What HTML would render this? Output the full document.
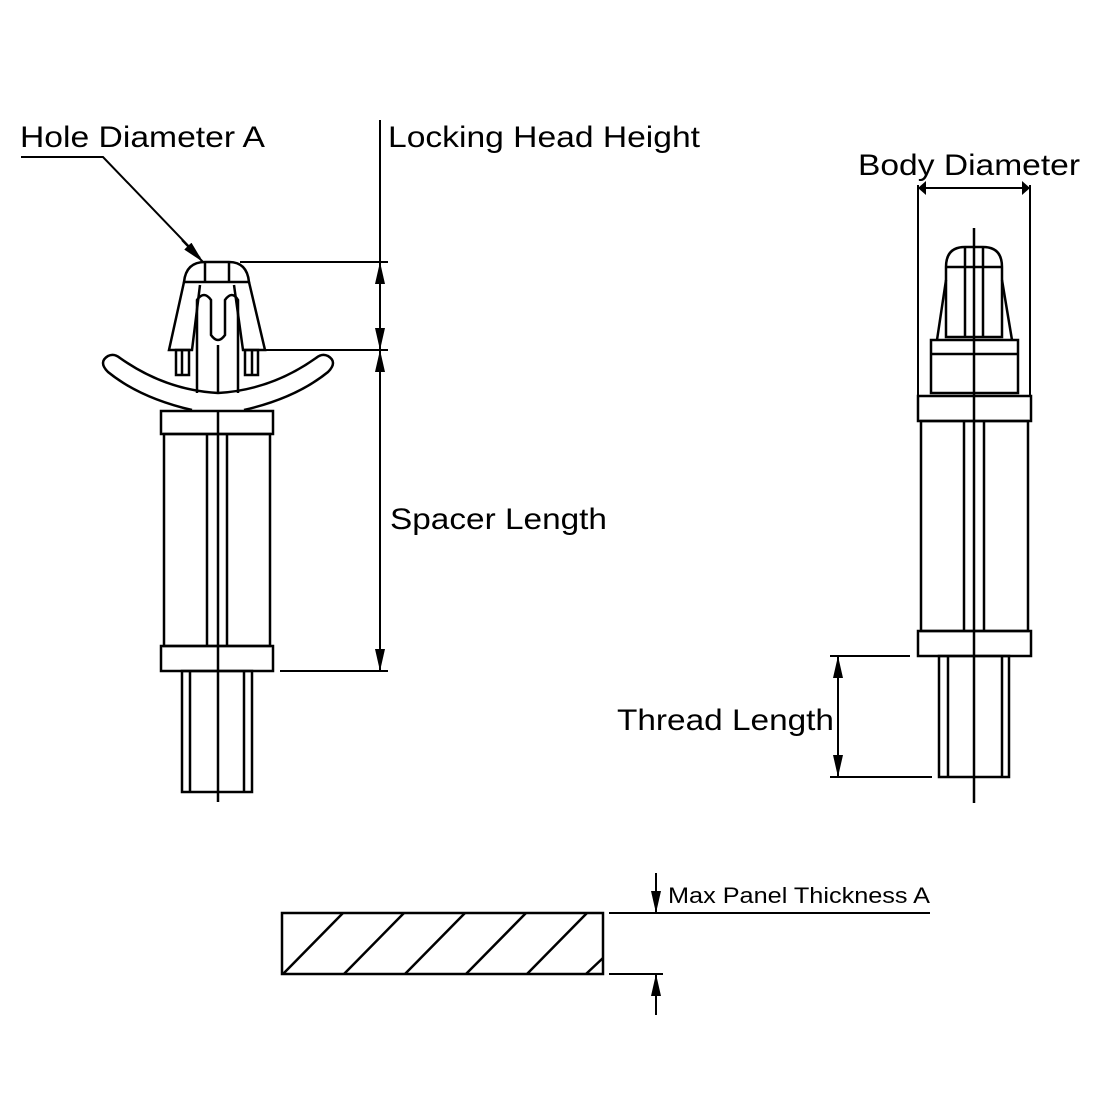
<!DOCTYPE html>
<html><head><meta charset="utf-8"><style>body{margin:0;background:#fff}svg{display:block}</style></head><body>
<svg width="1100" height="1100" viewBox="0 0 1100 1100" xmlns="http://www.w3.org/2000/svg">
<defs>
<marker id="a" viewBox="0 0 10 10" refX="10" refY="5" markerWidth="8" markerHeight="14" markerUnits="userSpaceOnUse" orient="auto-start-reverse" preserveAspectRatio="none"><path d="M0,0 L10,5 L0,10 z" fill="#000"/></marker>
<marker id="b" viewBox="0 0 10 10" refX="10" refY="5" markerWidth="22" markerHeight="10" markerUnits="userSpaceOnUse" orient="auto-start-reverse" preserveAspectRatio="none"><path d="M0,0 L10,5 L0,10 z" fill="#000"/></marker>
</defs>
<g fill="none" stroke="#000" stroke-width="2.5">
<!-- left part -->
<path d="M184,282 Q186,262 205,262 L229,262 Q247,262 249,282 Z"/>
<line x1="205" y1="262" x2="205" y2="282"/><line x1="229" y1="262" x2="229" y2="282"/>
<path d="M184,282 L169,350 L192,350 L200,285"/>
<path d="M249,282 L265,350 L243,350 L234,285"/>
<path d="M197,393 L197,300 Q204,290 211,300 L211,335 Q218,345 225,335 L225,300 Q232,290 238,300 L238,393"/>
<line x1="218" y1="345" x2="218" y2="393"/>
<rect x="176" y="350" width="13" height="25"/><line x1="182" y1="350" x2="182" y2="375"/>
<rect x="245" y="350" width="13" height="25"/><line x1="252" y1="350" x2="252" y2="375"/>
<path d="M192,410 Q140,398 108,372 Q98,362 108,356 Q114,353 120,358 Q165,390 218,393 Q271,390 316,358 Q322,353 328,356 Q338,362 328,372 Q296,398 244,410"/>
<rect x="161" y="411" width="112" height="23"/>
<rect x="164" y="434" width="106" height="212"/>
<line x1="207" y1="434" x2="207" y2="646"/><line x1="227" y1="434" x2="227" y2="646"/>
<rect x="161" y="646" width="112" height="25"/>
<rect x="182" y="671" width="70" height="121"/>
<line x1="190" y1="671" x2="190" y2="792"/><line x1="244" y1="671" x2="244" y2="792"/>
<line x1="218" y1="411" x2="218" y2="802"/>
<!-- right part -->
<path d="M946,267 Q946,247 965,247 L983,247 Q1002,247 1002,267 L1002,337 L946,337 Z"/>
<line x1="946" y1="267" x2="1002" y2="267"/>
<line x1="965" y1="247" x2="965" y2="337"/><line x1="983" y1="247" x2="983" y2="337"/>
<path d="M946,280 L937,340"/><path d="M1002,280 L1012,340"/>
<rect x="931" y="340" width="87" height="53"/><line x1="931" y1="354" x2="1018" y2="354"/>
<rect x="918" y="396" width="113" height="25"/>
<rect x="921" y="421" width="107" height="210"/>
<line x1="964" y1="421" x2="964" y2="631"/><line x1="984" y1="421" x2="984" y2="631"/>
<rect x="918" y="631" width="113" height="25"/>
<rect x="939" y="656" width="70" height="121"/>
<line x1="948" y1="656" x2="948" y2="777"/><line x1="1002" y1="656" x2="1002" y2="777"/>
<line x1="974" y1="228" x2="974" y2="803"/>
<!-- panel -->
<rect x="282" y="913" width="321" height="61"/>
<path d="M283,974 L343,913 M344,974 L404,913 M405,974 L465,913 M466,974 L526,913 M527,974 L587,913 M586,974 L603,958"/>
</g>
<g fill="none" stroke="#000" stroke-width="2">
<polyline points="21,157 103,157 200,258"/>
<line x1="380" y1="120" x2="380" y2="262"/>
<line x1="240" y1="262" x2="388" y2="262"/><line x1="265" y1="350" x2="388" y2="350"/><line x1="280" y1="671" x2="388" y2="671"/>
<line x1="380" y1="262" x2="380" y2="350" marker-start="url(#b)" marker-end="url(#b)"/>
<line x1="380" y1="350" x2="380" y2="671" marker-start="url(#b)" marker-end="url(#b)"/>
<line x1="918" y1="185" x2="918" y2="395"/><line x1="1030" y1="185" x2="1030" y2="395"/>
<line x1="918" y1="188" x2="1030" y2="188" marker-start="url(#a)" marker-end="url(#a)"/>
<line x1="830" y1="656" x2="910" y2="656"/><line x1="830" y1="777" x2="932" y2="777"/>
<line x1="838" y1="656" x2="838" y2="777" marker-start="url(#b)" marker-end="url(#b)"/>
<line x1="609" y1="913" x2="930" y2="913"/><line x1="609" y1="974" x2="663" y2="974"/>
<line x1="656" y1="873" x2="656" y2="913" marker-end="url(#b)"/>
<line x1="656" y1="1015" x2="656" y2="974" marker-end="url(#b)"/>
</g>
<line x1="203" y1="262" x2="182" y2="240" stroke="#000" stroke-width="2" marker-start="url(#b)"/>
<g font-family="Liberation Sans, sans-serif" fill="#000">
<text x="20" y="147" font-size="30" textLength="245" lengthAdjust="spacingAndGlyphs">Hole Diameter A</text>
<text x="388" y="147" font-size="30" textLength="312" lengthAdjust="spacingAndGlyphs">Locking Head Height</text>
<text x="858" y="175" font-size="30" textLength="222" lengthAdjust="spacingAndGlyphs">Body Diameter</text>
<text x="390" y="529" font-size="30" textLength="217" lengthAdjust="spacingAndGlyphs">Spacer Length</text>
<text x="617" y="730" font-size="30" textLength="217" lengthAdjust="spacingAndGlyphs">Thread Length</text>
<text x="668" y="903" font-size="22" textLength="262" lengthAdjust="spacingAndGlyphs">Max Panel Thickness A</text>
</g>
</svg>
</body></html>
